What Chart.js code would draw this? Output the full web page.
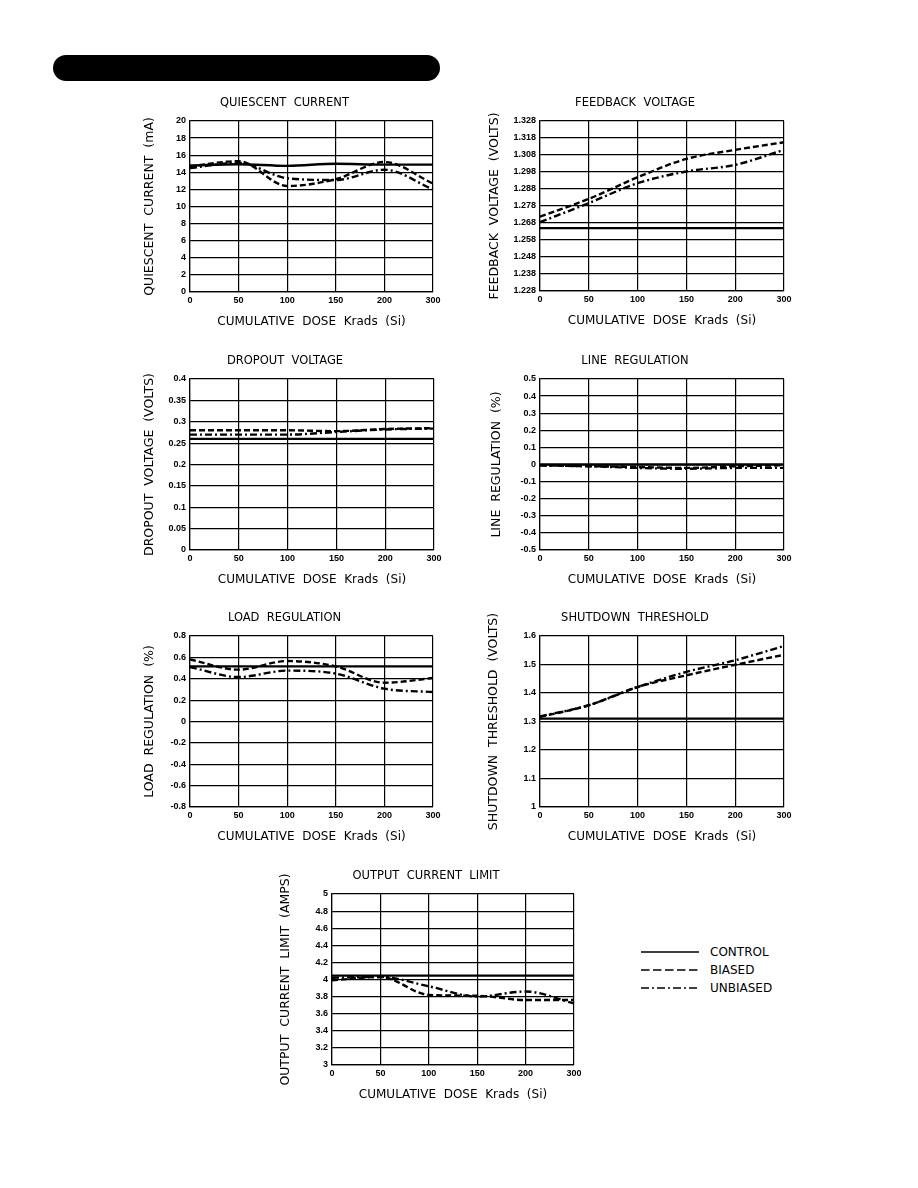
<!DOCTYPE html>
<html>
<head>
<meta charset="utf-8">
<script src="https://cdn.jsdelivr.net/npm/chart.js@4.4.1/dist/chart.umd.min.js"></script>
<style>
  body { margin: 0; background: #fff; width: 918px; height: 1188px; position: relative; overflow: hidden; font-family: "DejaVu Sans", sans-serif; }
  .bar { position: absolute; left: 53px; top: 55px; width: 387px; height: 26px; border-radius: 13px; background: #000; }
  canvas { position: absolute; }
  .legend { position: absolute; left: 640px; top: 943px; font-size: 12px; color: #000; }
  .legend div { height: 18px; display: flex; align-items: center; }
  .legend svg { margin-right: 10px; }
</style>
</head>
<body>
<div class="bar"></div>
<div class="legend" id="legend"></div>
<script>
// x categories (equally spaced on the original plots)
const doses = ["0", "50", "100", "150", "200", "300"];

// quiescent current (mA)
const quiescentTicks = [0, 2, 4, 6, 8, 10, 12, 14, 16, 18, 20];
const quiescentControl = [14.8, 14.95, 14.75, 15.0, 14.9, 14.9];
const quiescentBiased = [14.7, 15.3, 12.4, 13.2, 15.2, 12.7];
const quiescentUnbiased = [14.5, 15.1, 13.3, 13.1, 14.3, 12.0];

// feedback voltage (V)
const feedbackTicks = [1.228, 1.238, 1.248, 1.258, 1.268, 1.278, 1.288, 1.298, 1.308, 1.318, 1.328];
const feedbackControl = [1.265, 1.265, 1.265, 1.265, 1.265, 1.265];
const feedbackBiased = [1.2718, 1.2822, 1.2949, 1.3057, 1.311, 1.3155];
const feedbackUnbiased = [1.2685, 1.2797, 1.2914, 1.2983, 1.3022, 1.311];

// dropout voltage (V)
const dropoutTicks = [0, 0.05, 0.1, 0.15, 0.2, 0.25, 0.3, 0.35, 0.4];
const dropoutControl = [0.26, 0.26, 0.26, 0.26, 0.26, 0.26];
const dropoutBiased = [0.28, 0.28, 0.28, 0.278, 0.283, 0.285];
const dropoutUnbiased = [0.27, 0.27, 0.27, 0.276, 0.282, 0.284];

// line regulation (%)
const lineRegTicks = [-0.5, -0.4, -0.3, -0.2, -0.1, 0, 0.1, 0.2, 0.3, 0.4, 0.5];
const lineRegControl = [0, 0, 0, 0, 0, 0];
const lineRegBiased = [-0.005, -0.01, -0.015, -0.02, -0.01, -0.005];
const lineRegUnbiased = [-0.005, -0.01, -0.02, -0.025, -0.02, -0.02];

// load regulation (%)
const loadRegTicks = [-0.8, -0.6, -0.4, -0.2, 0, 0.2, 0.4, 0.6, 0.8];
const loadRegControl = [0.516, 0.516, 0.516, 0.516, 0.516, 0.516];
const loadRegBiased = [0.58, 0.485, 0.566, 0.516, 0.363, 0.407];
const loadRegUnbiased = [0.51, 0.416, 0.476, 0.448, 0.307, 0.276];

// shutdown threshold (V)
const shutdownTicks = [1, 1.1, 1.2, 1.3, 1.4, 1.5, 1.6];
const shutdownControl = [1.31, 1.31, 1.31, 1.31, 1.31, 1.31];
const shutdownBiased = [1.316, 1.357, 1.421, 1.462, 1.499, 1.534];
const shutdownUnbiased = [1.318, 1.357, 1.421, 1.474, 1.515, 1.565];

// output current limit (A)
const currentLimitTicks = [3, 3.2, 3.4, 3.6, 3.8, 4, 4.2, 4.4, 4.6, 4.8, 5];
const currentLimitControl = [4.045, 4.045, 4.045, 4.045, 4.045, 4.045];
const currentLimitBiased = [3.99, 4.03, 3.82, 3.81, 3.76, 3.76];
const currentLimitUnbiased = [4.02, 4.03, 3.92, 3.8, 3.86, 3.72];

const seriesNames = ["CONTROL", "BIASED", "UNBIASED"];
const dashes = [[], [6, 3], [7, 3, 2, 3]];

Chart.defaults.font.family = "'DejaVu Sans', sans-serif";
Chart.defaults.color = "#000";

const Y_W = 54, X_H = 42, TITLE_H = 24, PAD_R = 16;

const charts = [
  { title: "QUIESCENT  CURRENT", yTitle: "QUIESCENT  CURRENT  (mA)", box: [190, 121, 433, 292], yPad: 7,
    ticks: quiescentTicks, data: [quiescentControl, quiescentBiased, quiescentUnbiased] },
  { title: "FEEDBACK  VOLTAGE", yTitle: "FEEDBACK  VOLTAGE  (VOLTS)", box: [540, 121, 784, 291], yPad: 2,
    ticks: feedbackTicks, data: [feedbackControl, feedbackBiased, feedbackUnbiased] },
  { title: "DROPOUT  VOLTAGE", yTitle: "DROPOUT  VOLTAGE  (VOLTS)", box: [190, 379, 434, 550], yPad: 6.3,
    ticks: dropoutTicks, data: [dropoutControl, dropoutBiased, dropoutUnbiased] },
  { title: "LINE  REGULATION", yTitle: "LINE  REGULATION  (%)", box: [540, 379, 784, 550], yPad: 3.7,
    ticks: lineRegTicks, data: [lineRegControl, lineRegBiased, lineRegUnbiased] },
  { title: "LOAD  REGULATION", yTitle: "LOAD  REGULATION  (%)", box: [190, 636, 433, 807], yPad: 7,
    ticks: loadRegTicks, data: [loadRegControl, loadRegBiased, loadRegUnbiased] },
  { title: "SHUTDOWN  THRESHOLD", yTitle: "SHUTDOWN  THRESHOLD  (VOLTS)", box: [540, 636, 784, 807], yPad: 0.3,
    ticks: shutdownTicks, data: [shutdownControl, shutdownBiased, shutdownUnbiased] },
  { title: "OUTPUT  CURRENT  LIMIT", yTitle: "OUTPUT  CURRENT  LIMIT  (AMPS)", box: [332, 894, 574, 1065], yPad: 0.3,
    ticks: currentLimitTicks, data: [currentLimitControl, currentLimitBiased, currentLimitUnbiased] },
];

charts.forEach(function (spec) {
  const [L, T, R, B] = spec.box;
  const cv = document.createElement("canvas");
  cv.width = Y_W + (R - L) + PAD_R;
  cv.height = TITLE_H + (B - T) + X_H;
  cv.style.left = (L - Y_W) + "px";
  cv.style.top = (T - TITLE_H) + "px";
  document.body.appendChild(cv);

  const datasets = spec.data.map(function (values, i) {
    return {
      label: seriesNames[i],
      data: values,
      borderColor: "#000",
      borderWidth: 2.4,
      borderDash: dashes[i],
      pointRadius: 0,
      cubicInterpolationMode: "monotone",
      fill: false,
    };
  });

  new Chart(cv.getContext("2d"), {
    type: "line",
    data: { labels: doses, datasets: datasets },
    options: {
      responsive: false,
      animation: false,
      events: [],
      layout: { padding: { left: 0, top: 0, right: PAD_R, bottom: 0 } },
      plugins: {
        legend: { display: false },
        tooltip: { enabled: false },
        title: {
          display: true,
          text: spec.title,
          color: "#000",
          font: { size: 11.5, weight: "normal", lineHeight: "13px" },
          padding: { top: 0, bottom: 11 },
        },
      },
      scales: {
        x: {
          type: "category",
          offset: false,
          grid: { color: "#000", lineWidth: 1.2, drawTicks: false, offset: false },
          border: { color: "#000", width: 1.2 },
          ticks: { font: { family: "'Liberation Sans', sans-serif", size: 9, weight: "bold" }, padding: 3.5, maxRotation: 0, autoSkip: false },
          title: {
            display: true,
            text: "CUMULATIVE  DOSE  Krads  (Si)",
            font: { size: 12, lineHeight: "14px" },
            padding: { top: 0, bottom: 5 },
          },
          afterFit: function (scale) { scale.height = X_H; },
        },
        y: {
          min: spec.ticks[0],
          max: spec.ticks[spec.ticks.length - 1],
          grid: { color: "#000", lineWidth: 1.2, drawTicks: false },
          border: { color: "#000", width: 1.2 },
          ticks: {
            font: { family: "'Liberation Sans', sans-serif", size: 9, weight: "bold" },
            padding: 4,
            callback: function (v) { return String(v); },
          },
          afterBuildTicks: function (scale) {
            scale.ticks = spec.ticks.map(function (v) { return { value: v }; });
          },
          title: {
            display: true,
            text: spec.yTitle,
            font: { size: 12.5, lineHeight: "14px" },
            padding: { top: spec.yPad, bottom: 0 },
          },
          afterFit: function (scale) { scale.width = Y_W; },
        },
      },
    },
  });
});

// legend beside the last chart
const legend = document.getElementById("legend");
seriesNames.forEach(function (name, i) {
  const row = document.createElement("div");
  const dash = i === 1 ? "8.5 3.5" : i === 2 ? "8 3 2 3" : "none";
  row.innerHTML = '<svg width="60" height="4"><line x1="1" y1="2" x2="59" y2="2" stroke="#000" stroke-width="1.6" stroke-dasharray="' +
    dash + '"/></svg><span>' + name + "</span>";
  legend.appendChild(row);
});
</script>
</body>
</html>
